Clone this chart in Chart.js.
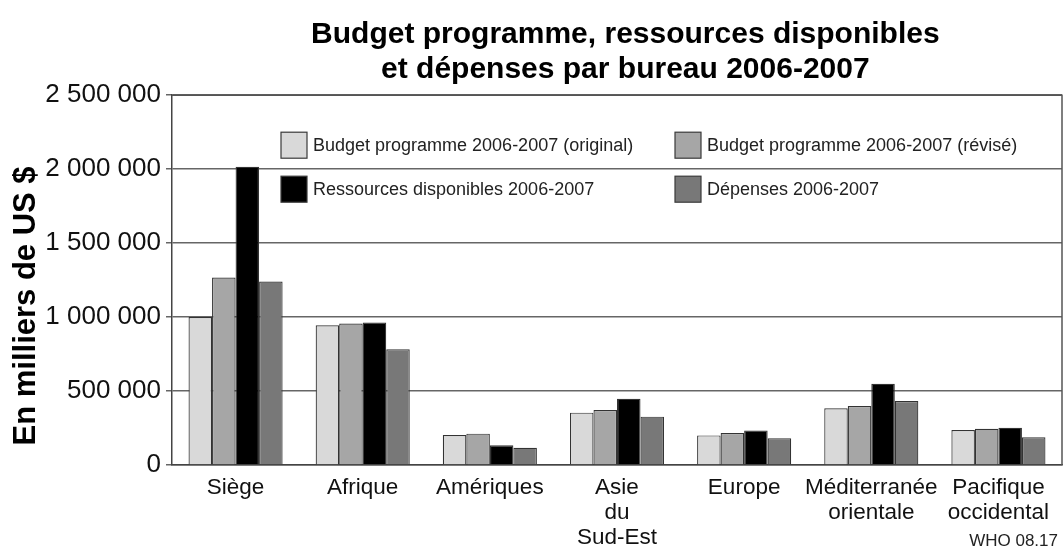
<!DOCTYPE html>
<html>
<head>
<meta charset="utf-8">
<script src="https://cdn.jsdelivr.net/npm/chart.js@4.4.1/dist/chart.umd.min.js"></script>
<style>
  body { margin: 0; background: #fff; }
  #wrap { width: 1064px; height: 550px; }
</style>
</head>
<body>
<div id="wrap"><canvas id="chart" width="1064" height="550"></canvas></div>
<script>
// values in thousands of US $
const categories = [
  ['Siège'], ['Afrique'], ['Amériques'], ['Asie', 'du', 'Sud-Est'],
  ['Europe'], ['Méditerranée', 'orientale'], ['Pacifique', 'occidental']
];
const seriesNames = [
  'Budget programme 2006-2007 (original)',
  'Budget programme 2006-2007 (révisé)',
  'Ressources disponibles 2006-2007',
  'Dépenses 2006-2007'
];
const budgetOriginal = [1000000, 944000, 203000, 354000, 200000, 383000, 236000];
const budgetRevised  = [1268000, 957000, 212000, 372000, 216000, 399000, 245000];
const resources      = [2016000, 964000, 133000, 448000, 234000, 549000, 252000];
const expenses       = [1241000, 782000, 117000, 327000, 180000, 432000, 187000];
const yTicks = [0, 500000, 1000000, 1500000, 2000000, 2500000];

const fills = ['#d9d9d9', '#a6a6a6', '#000000', '#787878'];
const FONT = '"Liberation Sans", Arial, sans-serif';
Chart.defaults.font.family = FONT;
Chart.defaults.color = '#111';

function fmt(v) {
  return String(v).replace(/\B(?=(\d{3})+(?!\d))/g, ' ');
}

// legend drawn inside the plot area in two aligned columns
const insideLegend = {
  id: 'insideLegend',
  afterDraw(chart) {
    const ctx = chart.ctx;
    const a = chart.chartArea;
    const cols = [a.left + 109, a.left + 503];
    const rows = [a.top + 50, a.top + 94];
    ctx.save();
    ctx.font = '18px ' + FONT;
    ctx.textBaseline = 'middle';
    chart.data.datasets.forEach((ds, i) => {
      const x = cols[i % 2], y = rows[Math.floor(i / 2)];
      ctx.fillStyle = ds.backgroundColor;
      ctx.fillRect(x, y - 13, 26, 26);
      ctx.strokeStyle = '#3a3a3a';
      ctx.lineWidth = 1.2;
      ctx.strokeRect(x, y - 13, 26, 26);
      ctx.fillStyle = '#222';
      ctx.fillText(ds.label, x + 32, y + 1);
    });
    // plot frame (top + right)
    ctx.strokeStyle = '#555';
    ctx.lineWidth = 1.5;
    ctx.beginPath();
    ctx.moveTo(a.left, a.top);
    ctx.lineTo(a.right, a.top);
    ctx.lineTo(a.right, a.bottom);
    ctx.stroke();
    // source note
    ctx.font = '17px ' + FONT;
    ctx.fillStyle = '#222';
    ctx.textAlign = 'right';
    ctx.fillText('WHO 08.17', 1058, 541);
    ctx.restore();
  }
};

const whiteBg = {
  id: 'whiteBg',
  beforeDraw(chart) {
    const ctx = chart.ctx;
    ctx.save();
    ctx.fillStyle = '#fff';
    ctx.fillRect(0, 0, chart.width, chart.height);
    ctx.restore();
  }
};

const allSeries = [budgetOriginal, budgetRevised, resources, expenses];

new Chart(document.getElementById('chart').getContext('2d'), {
  type: 'bar',
  data: {
    labels: categories,
    datasets: allSeries.map((d, i) => ({
      label: seriesNames[i],
      data: d,
      backgroundColor: fills[i],
      borderColor: '#333',
      borderWidth: 1.2,
      categoryPercentage: 0.74,
      barPercentage: 1
    }))
  },
  options: {
    responsive: false,
    animation: false,
    layout: { padding: { left: 0, right: 2, top: 0, bottom: 0 } },
    plugins: {
      legend: { display: false },
      tooltip: { enabled: false },
      title: {
        display: true,
        fullSize: false,
        // leading spaces nudge the centred title a little to the right
        text: ['  Budget programme, ressources disponibles', '  et dépenses par bureau 2006-2007'],
        color: '#000',
        font: { size: 30, weight: 'bold', lineHeight: 1.17 },
        padding: { top: 17, bottom: 8 }
      }
    },
    scales: {
      x: {
        grid: { display: false, drawTicks: false },
        border: { display: true, color: '#444', width: 1.5 },
        ticks: {
          color: '#111',
          font: { size: 22.5, lineHeight: 1.12 },
          padding: 10,
          maxRotation: 0,
          autoSkip: false
        },
        afterFit(s) { s.height = 85; }
      },
      y: {
        min: 0,
        max: 2500000,
        afterBuildTicks(s) { s.ticks = yTicks.map(v => ({ value: v })); },
        grid: { color: '#666', lineWidth: 1.5, tickLength: 6, drawTicks: true },
        border: { display: true, color: '#444', width: 1.5 },
        ticks: {
          color: '#111',
          font: { size: 26 },
          padding: 5,
          callback: v => fmt(v)
        },
        title: {
          display: true,
          // trailing spaces move the centred title down a bit
          text: 'En milliers de US $      ',
          color: '#000',
          font: { size: 31, weight: 'bold' },
          padding: { top: 8, bottom: 0 }
        },
        afterFit(s) { s.width = 172; }
      }
    }
  },
  plugins: [whiteBg, insideLegend]
});
</script>
</body>
</html>
